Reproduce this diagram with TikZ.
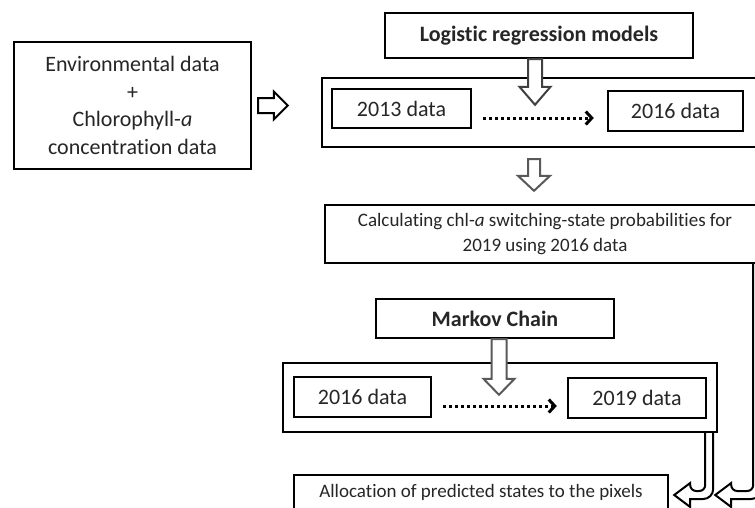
\documentclass[tikz,border=0pt]{standalone}
\usepackage{fontspec}
\setmainfont[Ligatures=NoCommon]{Carlito}
\usetikzlibrary{calc,arrows.meta}

% hollow downward block arrow: style, start, tip, shaft half-width, head half-width, head length
\newcommand\hollowdown[6]{%
  \filldraw[#1] let \p1=#2, \p2=#3 in
    (\x2-#4,\y1) -- (\x2-#4,\y2+#6) -- (\x2-#5,\y2+#6) -- (\x2,\y2)
    -- (\x2+#5,\y2+#6) -- (\x2+#4,\y2+#6) -- (\x2+#4,\y1) -- cycle;}

% hollow block arrow that runs down and bends left: style, start (inner line), tip
\newcommand\hollowbend[3]{%
  \filldraw[#1] let \p1=#2, \p2=#3 in
    (\x1,\y1) [rounded corners=6pt] -- (\x1,\y2+4pt) -- (\x2+16pt,\y2+4pt)
    [sharp corners] -- (\x2+16pt,\y2+12pt) -- (\x2,\y2) -- (\x2+16pt,\y2-12pt)
    -- (\x2+16pt,\y2-4pt) [rounded corners=10pt] -- (\x1+8pt,\y2-4pt) -- (\x1+8pt,\y1);}

\begin{document}
\begin{tikzpicture}[x=1pt,y=-1pt,
  box/.style={draw=black, line width=2.4pt, inner sep=0pt, align=center,
    text=black!85, font=\fontsize{22}{27.5}\selectfont},
  boldbox/.style={box, font=\bfseries\fontsize{22}{27}\selectfont},
  smallbox/.style={box, font=\fontsize{19}{25}\selectfont},
  hollow/.style={draw=black, fill=white, line width=2pt, line join=miter},
  grayhollow/.style={hollow, draw=black!65},
  bent/.style={draw=black, fill=white, line width=2pt},
  dotarrow/.style={line width=3pt, dash pattern=on 3pt off 3pt,
    -{Straight Barb[length=6pt,width=13pt]}}]

\clip (0,0) rectangle (755,507);
\fill[white] (0,0) rectangle (755,507);

% input data
\node[box, minimum width=237pt, minimum height=127pt] (env) at (132.5,105.5)
  {Environmental data\\+\\Chlorophyll-\textit{a}\\concentration data};

% first stage: logistic regression
\node[boldbox, minimum width=308pt, minimum height=45pt] (lr) at (539,35.5) {Logistic regression models};
\node[box, minimum width=446pt, minimum height=69pt] (st1) at (545,112.5) {};
\node[box, minimum width=139pt, minimum height=39pt] (d13) at (401.5,108.5) {2013 data};
\node[box, minimum width=135pt, minimum height=40pt] (d16a) at (675.5,111) {2016 data};

% probabilities
\node[smallbox, minimum width=440pt, minimum height=58pt] (calc) at (545,234)
  {Calculating chl-\textit{a} switching-state probabilities for\\2019 using 2016 data};

% second stage: Markov chain
\node[boldbox, minimum width=238pt, minimum height=39pt] (mc) at (495,318.5) {Markov Chain};
\node[box, minimum width=434pt, minimum height=69pt] (st2) at (500,397.5) {};
\node[box, minimum width=137pt, minimum height=40pt] (d16b) at (362.5,397) {2016 data};
\node[box, minimum width=138pt, minimum height=40pt] (d19) at (637,398) {2019 data};

% result
\node[smallbox, minimum width=374pt, minimum height=34pt] (alloc) at (481,492)
  {Allocation of predicted states to the pixels};

% dotted transitions
\draw[dotarrow] ($(d13.east)+(11,9.5)$) -- ($(d16a.west)+(-13,7)$);
\draw[dotarrow] ($(d16b.east)+(11,9)$) -- ($(d19.west)+(-10,8)$);

% input -> first stage
\coordinate (rS) at ($(env.east)+(6,0)$);
\coordinate (rT) at ($(rS -| st1.west)+(-33,0)$);
\filldraw[hollow] let \p1=(rS), \p2=(rT) in
  (\x1,\y1+7.5pt) -- (\x2-14pt,\y1+7.5pt) -- (\x2-14pt,\y1+14pt) -- (\x2,\y1)
  -- (\x2-14pt,\y1-14pt) -- (\x2-14pt,\y1-7.5pt) -- (\x1,\y1-7.5pt) -- cycle;

% vertical block arrows
\hollowdown{hollow, draw=black!75}{($(lr.south)+(-4,0)$)}{($(st1.north)+(-10,28)$)}{7pt}{15.5pt}{18pt}
\hollowdown{grayhollow}{($(st1.south)+(-11,11)$)}{($(calc.north)+(-11,-13)$)}{6pt}{16pt}{15pt}
\hollowdown{grayhollow}{($(mc.south)+(4,0)$)}{($(st2.north)+(-1,33)$)}{7.5pt}{15.5pt}{16pt}

% bent arrows into the allocation step
\coordinate (bS) at ($(calc.south east)+(-13,0)$);
\coordinate (bT) at ($(alloc.east)+(46,3)$);
\hollowbend{bent}{(bS)}{(bT)}
\coordinate (aS) at ($(st2.south east)+(-13,0)$);
\coordinate (aT) at ($(alloc.east)+(5,3)$);
\hollowbend{bent}{(aS)}{(aT)}

\end{tikzpicture}
\end{document}
